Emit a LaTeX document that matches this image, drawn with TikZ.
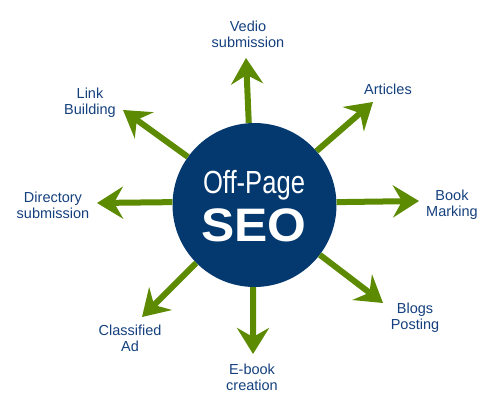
\documentclass[tikz,border=0pt]{standalone}
\usepackage{fontspec}
\setmainfont{Liberation Sans}
\usetikzlibrary{arrows.meta}
\definecolor{seoblue}{HTML}{03396F}
\definecolor{arrgreen}{HTML}{5C8A00}
\definecolor{txtblue}{HTML}{14407E}

\begin{document}
\begin{tikzpicture}[x=1pt,y=-1pt]
   \tikzset{lbl/.style={text=txtblue, align=center, inner sep=0pt, font=\fontsize{14.5}{16}\selectfont},
            arr/.style={draw=arrgreen, line width=6pt, -{Stealth[length=26pt,width=32pt,inset=9pt]}}};

\useasboundingbox (0,0) rectangle (500,412);

\node[circle, fill=seoblue, minimum size=164pt, inner sep=0pt] (seo) at (254.5,205) {};
\node[text=white, inner sep=0pt] (off) at (254,185) {\fontsize{32}{32}\selectfont\scalebox{0.8}[1]{Off-Page}};
\node[text=white, inner sep=0pt] (seotxt) at (254,225) {\fontsize{47}{47}\selectfont\bfseries\scalebox{1.06}[1]{SEO}};

\coordinate (tvedio) at (246,58);
\coordinate (tarticles) at (373,102);
\coordinate (tbook) at (419,201);
\coordinate (tblogs) at (383,303);
\coordinate (tebook) at (253,354);
\coordinate (tclass) at (142,317);
\coordinate (tdir) at (97,203);
\coordinate (tlink) at (123,110);

\draw[arr] (seo.94.5) -- (tvedio);
\draw[arr] (seo) -- (tarticles);
\draw[arr] (seo.2) -- (tbook);
\draw[arr] (seo) -- (tblogs);
\draw[arr] (seo.-91) -- (tebook);
\draw[arr] (seo) -- (tclass);
\draw[arr] (seo.178.6) -- (tdir);
\draw[arr] (seo) -- (tlink);

\node[lbl] (vedio) at (248,34) {Vedio\\submission};
\node[lbl] (articles) at (388,89) {Articles};
\node[lbl] (book) at (452,205) {Book\\Marking};
\node[lbl] (blogs) at (415,318) {Blogs\\Posting};
\node[lbl] (ebook) at (252,377) {E-book\\creation};
\node[lbl] (class) at (130,338) {Classified\\Ad};
\node[lbl] (dir) at (53,205) {Directory\\submission};
\node[lbl] (link) at (90,103) {Link\\Building};

\end{tikzpicture}
\end{document}
